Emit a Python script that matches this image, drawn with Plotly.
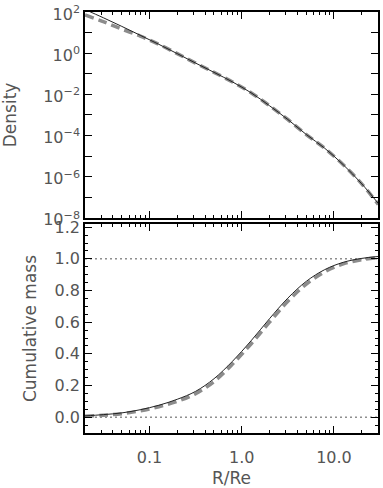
import plotly.graph_objects as go
from plotly.subplots import make_subplots

# radius in units of Re
radius = [0.02, 0.0316, 0.0501, 0.0794, 0.126, 0.2, 0.316, 0.501, 0.794,
          1.26, 2.0, 3.16, 5.01, 7.94, 12.6, 20.0, 30.2]

density_model = [132, 52.5, 20.0, 7.4, 2.7, 0.95, 0.33, 0.117, 0.040,
                 0.012, 2.8e-3, 6.0e-4, 1.12e-4, 2.4e-5, 3.8e-6, 4.5e-7, 5.0e-8]
density_fit = [72, 34, 14.8, 6.8, 2.7, 0.95, 0.33, 0.117, 0.040,
               0.012, 2.8e-3, 6.0e-4, 1.12e-4, 2.4e-5, 3.8e-6, 4.5e-7, 4.5e-8]

mass_model = [0.008, 0.016, 0.027, 0.047, 0.075, 0.113, 0.163, 0.243, 0.353,
              0.482, 0.622, 0.752, 0.858, 0.932, 0.978, 1.003, 1.015]
mass_fit = [0.005, 0.012, 0.022, 0.040, 0.066, 0.100, 0.148, 0.225, 0.335,
            0.462, 0.600, 0.732, 0.840, 0.918, 0.968, 0.995, 1.008]

ref_levels = [0.0, 1.0]

x_major = [0.1, 1, 10]
x_major_text = ["0.1", "1.0", "10.0"]
x_minor = [0.02, 0.03, 0.04, 0.05, 0.06, 0.07, 0.08, 0.09,
           0.2, 0.3, 0.4, 0.5, 0.6, 0.7, 0.8, 0.9,
           2, 3, 4, 5, 6, 7, 8, 9, 20, 30]
dens_ticks = [1e2, 1e0, 1e-2, 1e-4, 1e-6, 1e-8]
dens_text = ["10<sup>2</sup>", "10<sup>0</sup>", "10<sup>\u22122</sup>",
             "10<sup>\u22124</sup>", "10<sup>\u22126</sup>", "10<sup>\u22128</sup>"]
dens_minor = [1e1, 1e-1, 1e-3, 1e-5, 1e-7]
mass_ticks = [0.0, 0.2, 0.4, 0.6, 0.8, 1.0, 1.2]
mass_text = ["0.0", "0.2", "0.4", "0.6", "0.8", "1.0", "1.2"]

FONT = dict(family="DejaVu Sans", size=16, color="#555555")
TITLE_FONT = dict(family="DejaVu Sans", size=17, color="#555555")
GRAY = "#8c8c8c"

fig = make_subplots(rows=2, cols=1, shared_xaxes=False)

fig.add_trace(go.Scatter(x=radius, y=density_fit, mode="lines",
                         line=dict(color=GRAY, width=3.5, dash="9px,5px", shape="spline")),
              row=1, col=1)
fig.add_trace(go.Scatter(x=radius, y=density_model, mode="lines",
                         line=dict(color="#222222", width=1, shape="spline")),
              row=1, col=1)

for lvl in ref_levels:
    fig.add_trace(go.Scatter(x=[radius[0], radius[-1]], y=[lvl, lvl], mode="lines",
                             line=dict(color="#555555", width=1, dash="2px,3px")),
                  row=2, col=1)

fig.add_trace(go.Scatter(x=radius, y=mass_fit, mode="lines",
                         line=dict(color=GRAY, width=3.5, dash="9px,5px", shape="spline")),
              row=2, col=1)
fig.add_trace(go.Scatter(x=radius, y=mass_model, mode="lines",
                         line=dict(color="#222222", width=1, shape="spline")),
              row=2, col=1)

axis_common = dict(showline=True, linecolor="black", linewidth=1.5, mirror="ticks",
                   ticks="inside", tickcolor="black", tickwidth=1, showgrid=False,
                   zeroline=False, tickfont=FONT, ticklabeloverflow="allow")

x_common = dict(type="log", range=[-1.699, 1.477], tickvals=x_major, ticklen=7,
                minor=dict(tickvals=x_minor, ticklen=3, ticks="inside", tickcolor="black"),
                **axis_common)

fig.update_xaxes(showticklabels=False, domain=[0, 1], **x_common, row=1, col=1)
fig.update_xaxes(ticktext=x_major_text, ticklabelstandoff=9,
                 title=dict(text="R/Re", font=TITLE_FONT, standoff=6),
                 **x_common, row=2, col=1)

fig.update_yaxes(type="log", range=[-8, 2], tickvals=dens_ticks, ticktext=dens_text, ticklen=7,
                 ticklabelshift=2,
                 minor=dict(tickvals=dens_minor, ticklen=7, ticks="inside", tickcolor="black"),
                 title=dict(text="Density", font=TITLE_FONT, standoff=22),
                 domain=[0.511, 1.0], **axis_common, row=1, col=1)
fig.update_yaxes(range=[-0.1, 1.22], tickvals=mass_ticks, ticktext=mass_text, ticklen=7,
                 minor=dict(dtick=0.05, tick0=0, ticklen=3, ticks="inside", tickcolor="black"),
                 title=dict(text="Cumulative mass", font=TITLE_FONT, standoff=14),
                 domain=[0.0, 0.4964], **axis_common, row=2, col=1)

fig.update_layout(width=383, height=488, showlegend=False,
                  margin=dict(l=85, r=3, t=11, b=55),
                  plot_bgcolor="white", paper_bgcolor="white", font=FONT)

# drop the default body margin so the figure fills the window exactly
fig.write_html("out.html", config={"displayModeBar": False},
               post_script="document.body.style.margin='0';document.body.style.overflow='hidden';")
